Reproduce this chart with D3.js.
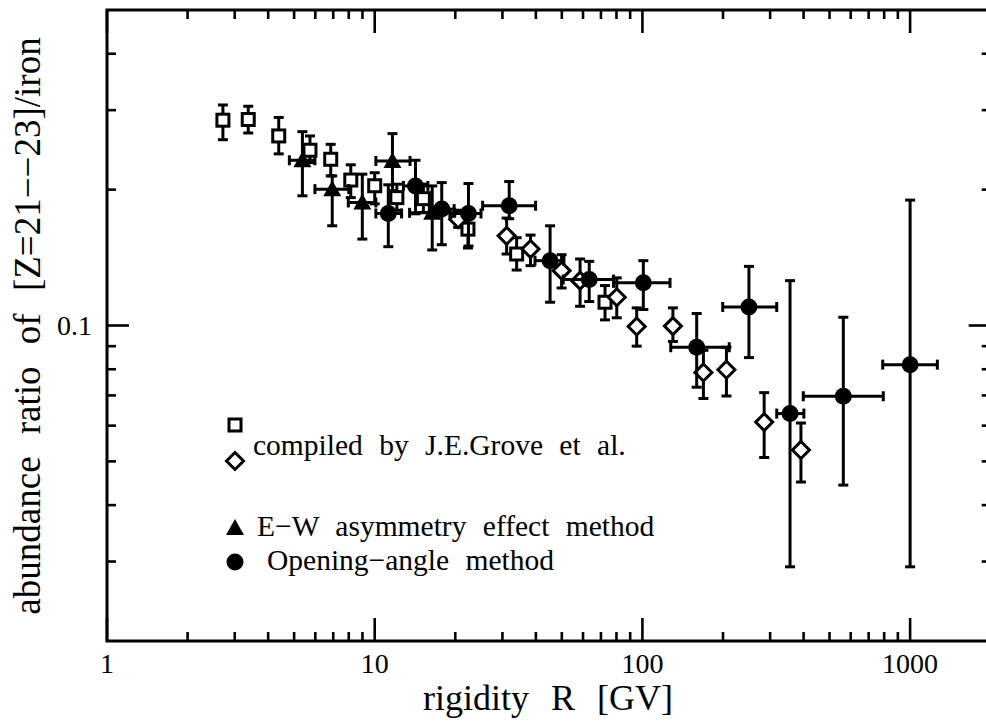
<!DOCTYPE html>
<html><head><meta charset="utf-8">
<script src="https://cdn.jsdelivr.net/npm/d3@7"></script>
<style>html,body{margin:0;padding:0;background:#fff;overflow:hidden}</style>
</head><body>
<svg id="c" width="986" height="723"></svg>
<script>
// ---- data ----
const xTickValues = [1, 10, 100, 1000];
const xTickLabels = ["1", "10", "100", "1000"];
const yTickValues = [0.1];
const yTickLabels = ["0.1"];

// [R, ratio, ratioLow, ratioHigh]
const groveSquares = [
  [2.71, 0.285, 0.258, 0.308],
  [3.37, 0.286, 0.267, 0.306],
  [4.38, 0.263, 0.240, 0.289],
  [5.73, 0.2445, 0.2295, 0.263],
  [6.85, 0.2335, 0.2145, 0.252],
  [8.14, 0.210, 0.192, 0.227],
  [10.0, 0.204, 0.186, 0.218],
  [12.1, 0.192, 0.180, 0.2056],
  [15.2, 0.191, 0.178, 0.2056],
  [22.3, 0.1635, 0.1485, 0.175],
  [33.9, 0.144, 0.1327, 0.1565],
  [72.5, 0.1126, 0.1029, 0.1226]
];
const groveDiamonds = [
  [20.5, 0.172, 0.165, 0.180],
  [31.1, 0.158, 0.144, 0.173],
  [38.2, 0.1477, 0.1357, 0.1586],
  [49.9, 0.1323, 0.1211, 0.1435],
  [58.5, 0.1257, 0.1103, 0.1404],
  [80.2, 0.1155, 0.1040, 0.1275],
  [95.2, 0.0995, 0.0900, 0.1094],
  [130, 0.0997, 0.0922, 0.1094],
  [169, 0.0787, 0.0689, 0.0881],
  [206, 0.0798, 0.0698, 0.0895],
  [285, 0.0611, 0.0510, 0.0710],
  [391, 0.0530, 0.0450, 0.0608]
];
// [R, Rlow, Rhigh, ratio, ratioLow, ratioHigh]
const ewTriangles = [
  [5.37, 4.80, 5.98, 0.2323, 0.1938, 0.2688],
  [6.94, 5.98, 8.0, 0.2005, 0.1663, 0.2145],
  [8.99, 7.97, 10.1, 0.1873, 0.1554, 0.2164],
  [11.65, 10.1, 13.55, 0.2315, 0.199, 0.2661],
  [16.4, 13.5, 19.9, 0.1777, 0.147, 0.2038]
];
const openingCircles = [
  [11.24, 10.1, 12.6, 0.1771, 0.1495, 0.205],
  [14.2, 12.8, 15.8, 0.2038, 0.1768, 0.2323],
  [17.8, 16.0, 19.8, 0.1811, 0.151, 0.2073],
  [22.4, 19.1, 24.95, 0.1771, 0.150, 0.2063],
  [31.8, 25.3, 39.9, 0.1842, 0.1724, 0.2084],
  [45.2, 39.7, 50.9, 0.1392, 0.1126, 0.1663],
  [63.3, 50.6, 78.0, 0.1264, 0.1130, 0.1387],
  [100.8, 78.0, 126.8, 0.1243, 0.1085, 0.1392],
  [159.5, 127.6, 211, 0.0895, 0.0730, 0.1063],
  [250, 199.5, 317.5, 0.1099, 0.0849, 0.1352],
  [356, 317.5, 401, 0.0638, 0.0292, 0.1257],
  [563, 399, 794, 0.0697, 0.0443, 0.1043],
  [1000, 790, 1264, 0.0819, 0.0292, 0.1896]
];
const legendLabels = ["compiled by J.E.Grove et al.", "E\u2212W asymmetry effect method", "Opening\u2212angle method"];
const xTitle = "rigidity R [GV]";
const yTitle = "abundance ratio of [Z=21\u2212\u221223]/iron";

// ---- chart ----
const svg = d3.select("#c");
const L = 107, R = 990.7, T = 10, B = 641;
const x = d3.scaleLog().domain([1, 2000]).range([L, R]);
const y = d3.scaleLog().domain([0.02, 0.5]).range([B, T]);
const font = "'Liberation Serif','Times New Roman',serif";

// minor ticks
const xMinor = [];
[1, 10, 100, 1000].forEach(d => { for (let k = 2; k <= 9; k++) { const v = d * k; if (v < 2000) xMinor.push(v); } });
const yMinor = [];
[0.01, 0.1].forEach(d => { for (let k = 2; k <= 9; k++) { const v = +(d * k).toFixed(3); if (v > 0.02 && v < 0.5 && v !== 0.1) yMinor.push(v); } });

const ax = svg.append("g").attr("stroke", "#000").attr("stroke-width", 2.6);
const tick = (x1, y1, x2, y2) => ax.append("line").attr("x1", x1).attr("y1", y1).attr("x2", x2).attr("y2", y2);
xMinor.forEach(v => { tick(x(v), B, x(v), B - 9); tick(x(v), T, x(v), T + 9); });
xTickValues.forEach(v => { tick(x(v), B, x(v), B - 23); tick(x(v), T, x(v), T + 23); });
yMinor.forEach(v => { tick(L, y(v), L + 9, y(v)); tick(R, y(v), R - 9, y(v)); });
yTickValues.forEach(v => { tick(L, y(v), L + 22, y(v)); tick(R, y(v), R - 22, y(v)); });
svg.append("rect").attr("x", L).attr("y", T).attr("width", R - L).attr("height", B - T)
  .attr("fill", "none").attr("stroke", "#000").attr("stroke-width", 3);

// tick labels
svg.append("g").selectAll("text").data(xTickValues).join("text")
  .attr("x", d => x(d)).attr("y", 673).attr("text-anchor", "middle")
  .attr("font-family", font).attr("font-size", 28).text((d, i) => xTickLabels[i]);
svg.append("g").selectAll("text").data(yTickValues).join("text")
  .attr("x", 92).attr("y", d => y(d) + 9.5).attr("text-anchor", "end")
  .attr("font-family", font).attr("font-size", 28).text((d, i) => yTickLabels[i]);

// titles
svg.append("text").attr("x", 548).attr("y", 710).attr("text-anchor", "middle")
  .attr("font-family", font).attr("font-size", 36).attr("word-spacing", 13).text(xTitle);
svg.append("text").attr("transform", "translate(40,326) rotate(-90)").attr("text-anchor", "middle")
  .attr("font-family", font).attr("font-size", 37).attr("word-spacing", 13).text(yTitle);

// markers
const cap = 5, sw = 3;
const plot = svg.append("g");
function vErr(g, cx, y1, y2) {
  g.append("line").attr("x1", cx).attr("x2", cx).attr("y1", y1).attr("y2", y2);
  g.append("line").attr("x1", cx - cap).attr("x2", cx + cap).attr("y1", y1).attr("y2", y1);
  g.append("line").attr("x1", cx - cap).attr("x2", cx + cap).attr("y1", y2).attr("y2", y2);
}
function hErr(g, cy, x1, x2) {
  g.append("line").attr("x1", x1).attr("x2", x2).attr("y1", cy).attr("y2", cy);
  g.append("line").attr("x1", x1).attr("x2", x1).attr("y1", cy - cap).attr("y2", cy + cap);
  g.append("line").attr("x1", x2).attr("x2", x2).attr("y1", cy - cap).attr("y2", cy + cap);
}
const sym = {
  square: (g, cx, cy) => g.append("rect").attr("x", cx - 6).attr("y", cy - 6).attr("width", 12).attr("height", 12)
    .attr("fill", "#fff").attr("stroke", "#000").attr("stroke-width", 3),
  diamond: (g, cx, cy) => g.append("path").attr("d", `M${cx},${cy - 8.5}L${cx + 8.5},${cy}L${cx},${cy + 8.5}L${cx - 8.5},${cy}Z`)
    .attr("fill", "#fff").attr("stroke", "#000").attr("stroke-width", 3),
  triangle: (g, cx, cy) => g.append("path").attr("d", `M${cx},${cy - 9}L${cx + 9},${cy + 7}L${cx - 9},${cy + 7}Z`)
    .attr("fill", "#000"),
  circle: (g, cx, cy) => g.append("circle").attr("cx", cx).attr("cy", cy).attr("r", 8.5).attr("fill", "#000")
};

function drawOpen(data, kind) {
  const g = plot.append("g").attr("stroke", "#000").attr("stroke-width", sw);
  data.forEach(d => vErr(g, x(d[0]), y(d[2]), y(d[3])));
  data.forEach(d => sym[kind](plot.append("g"), x(d[0]), y(d[1])));
}
function drawFull(data, kind) {
  const g = plot.append("g").attr("stroke", "#000").attr("stroke-width", sw);
  data.forEach(d => { vErr(g, x(d[0]), y(d[4]), y(d[5])); hErr(g, y(d[3]), x(d[1]), x(d[2])); });
  data.forEach(d => sym[kind](plot.append("g"), x(d[0]), y(d[3])));
}
drawOpen(groveSquares, "square");
drawOpen(groveDiamonds, "diamond");
drawFull(ewTriangles, "triangle");
drawFull(openingCircles, "circle");

// legend
const lg = svg.append("g");
sym.square(lg, 235, 425);
sym.diamond(lg, 235, 461);
sym.triangle(lg, 235, 528);
sym.circle(lg, 235, 562);
const legPos = [[253, 455], [257, 536], [267, 570]];
legendLabels.forEach((t, i) => lg.append("text").attr("x", legPos[i][0]).attr("y", legPos[i][1])
  .attr("font-family", font).attr("font-size", 29.5).attr("word-spacing", 9).text(t));
</script>
</body></html>
